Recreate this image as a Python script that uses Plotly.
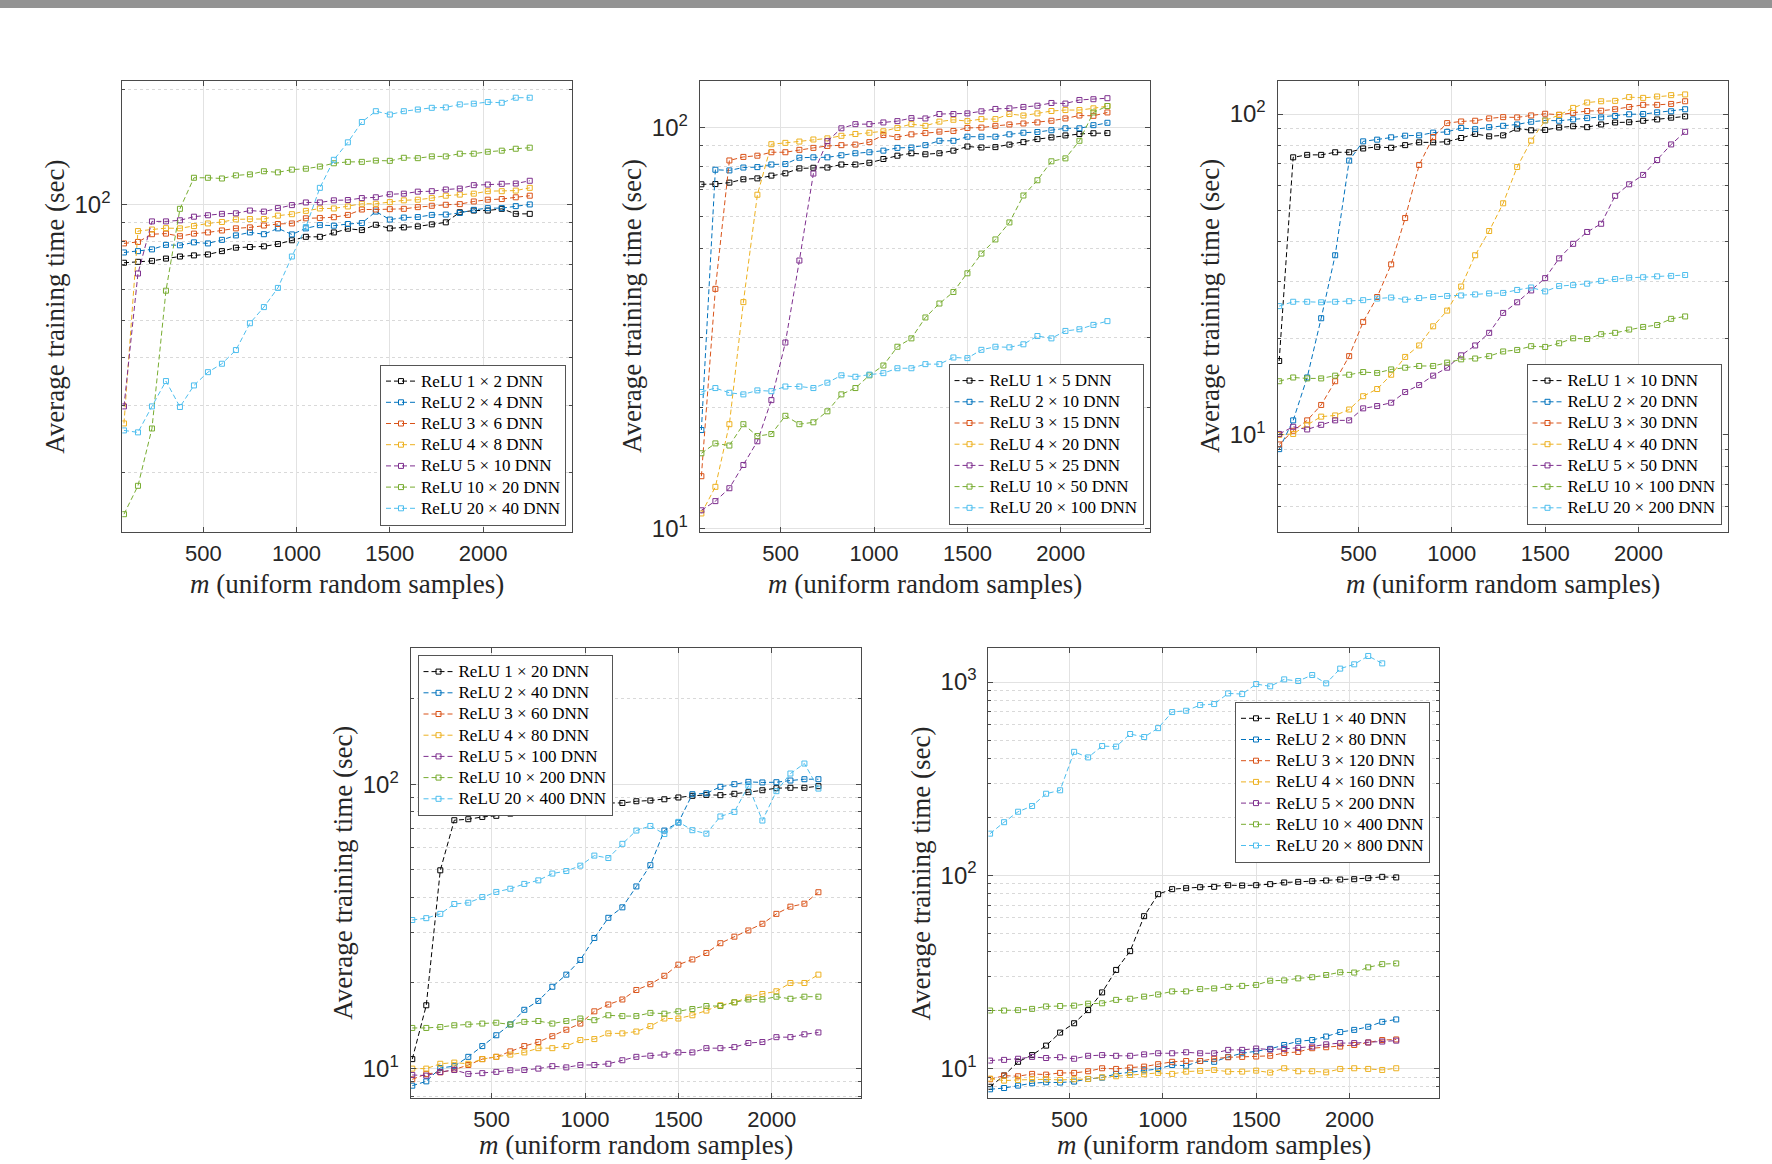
import plotly.graph_objects as go

# ---------------- data ----------------
m_samples = [75, 150, 225, 300, 375, 450, 525, 600, 675, 750, 825, 900, 975, 1050, 1125,
             1200, 1275, 1350, 1425, 1500, 1575, 1650, 1725, 1800, 1875, 1950, 2025, 2100, 2175, 2250]

colors = ['#000000', '#0072BD', '#D95319', '#EDB120', '#7E2F8E', '#77AC30', '#4DBEEE']

# panel 1
p1_names = ['1 × 2', '2 × 4', '3 × 6', '4 × 8', '5 × 10', '10 × 20', '20 × 40']
p1_1x2 = [70.6, 71.0, 71.4, 72.4, 73.3, 73.8, 74.2, 75.7, 77.3, 77.6, 77.9, 79.0, 80.8, 82.5, 82.5, 84.7, 86.6, 85.9, 88.7, 86.8, 87.3, 87.8, 88.9, 90.0, 95.6, 96.6, 96.6, 97.6, 94.7, 94.7]
p1_2x4 = [75.1, 75.7, 76.5, 78.6, 78.4, 79.8, 79.3, 81.0, 83.2, 84.7, 83.8, 86.8, 83.7, 86.8, 88.5, 88.2, 89.1, 89.6, 96.0, 91.5, 92.6, 92.9, 94.1, 94.3, 95.2, 97.0, 98.0, 98.0, 99.2, 100.2]
p1_3x6 = [79.3, 80.0, 83.8, 84.1, 82.8, 84.1, 84.7, 85.7, 86.8, 87.3, 88.3, 89.1, 89.4, 92.2, 92.4, 92.8, 94.1, 97.2, 97.2, 97.4, 97.6, 98.6, 99.4, 100.0, 100.4, 102.0, 103.1, 103.5, 104.6, 105.6]
p1_4x8 = [26.9, 85.4, 86.2, 86.9, 86.8, 88.0, 89.4, 90.2, 91.6, 91.8, 91.8, 93.7, 94.5, 96.4, 97.8, 97.8, 99.0, 100.6, 100.6, 101.6, 102.7, 103.1, 104.1, 105.6, 106.3, 106.9, 108.5, 108.5, 108.9, 110.7]
p1_5x10 = [29.8, 66.2, 90.5, 90.5, 91.1, 93.1, 93.9, 94.7, 95.0, 96.6, 96.0, 98.0, 99.8, 101.4, 101.4, 102.7, 102.9, 104.1, 104.6, 106.5, 106.9, 108.2, 108.5, 109.6, 110.2, 112.5, 112.9, 113.4, 113.6, 115.5]
p1_10x20 = [15.6, 18.5, 26.1, 59.7, 97.6, 117.6, 117.6, 117.1, 119.3, 120.0, 122.3, 121.5, 123.5, 124.2, 125.8, 128.3, 129.4, 129.4, 130.4, 130.2, 132.6, 132.3, 133.7, 133.7, 135.9, 135.9, 137.5, 138.4, 140.0, 140.9]
p1_20x40 = [25.8, 25.5, 29.8, 34.7, 29.7, 33.8, 36.6, 38.5, 41.8, 49.1, 54.1, 60.7, 73.3, 87.5, 110.7, 131.0, 145.5, 164.4, 175.4, 171.9, 175.4, 177.2, 179.0, 179.4, 182.7, 183.5, 185.3, 184.5, 190.2, 190.2]

# panel 2
p2_names = ['1 × 5', '2 × 10', '3 × 15', '4 × 20', '5 × 25', '10 × 50', '20 × 100']
p2_1x5 = [72.2, 72.3, 72.9, 74.3, 74.7, 75.9, 76.9, 79.1, 79.4, 79.5, 80.9, 80.9, 81.7, 83.5, 85.1, 86.3, 85.8, 86.3, 87.6, 89.7, 89.2, 89.4, 90.7, 92.0, 93.6, 94.5, 95.6, 96.4, 96.8, 96.9]
p2_2x10 = [17.6, 78.5, 78.2, 79.5, 79.7, 80.9, 81.1, 84.1, 84.3, 84.3, 85.3, 86.3, 86.8, 87.6, 89.0, 89.2, 90.4, 92.7, 92.7, 94.9, 94.9, 94.9, 96.2, 97.1, 97.5, 98.5, 99.6, 99.6, 101.4, 102.8]
p2_3x15 = [13.5, 39.6, 82.8, 84.5, 85.1, 86.8, 86.8, 88.0, 89.0, 90.0, 90.4, 90.7, 92.0, 95.8, 94.7, 96.2, 96.9, 97.7, 98.1, 99.8, 100.0, 101.0, 101.8, 102.4, 103.0, 104.0, 105.4, 107.2, 107.0, 109.1]
p2_4x20 = [10.9, 12.7, 18.2, 36.7, 68.0, 90.9, 91.6, 92.3, 93.4, 94.0, 95.4, 96.4, 97.1, 97.9, 99.8, 102.0, 101.0, 103.5, 104.6, 103.8, 105.0, 105.0, 108.1, 107.2, 108.5, 110.0, 110.6, 110.6, 111.7, 113.2]
p2_5x25 = [11.1, 11.7, 12.6, 14.4, 16.5, 20.9, 29.1, 46.6, 76.8, 92.5, 99.6, 102.0, 102.0, 103.0, 103.8, 105.6, 105.4, 108.1, 108.1, 108.5, 109.8, 111.3, 111.7, 112.6, 113.4, 115.2, 114.8, 117.2, 117.7, 118.4]
p2_10x50 = [15.4, 16.3, 16.1, 18.2, 17.0, 17.2, 19.1, 18.2, 18.4, 19.6, 21.6, 22.4, 24.1, 25.5, 28.4, 29.8, 33.6, 36.4, 38.9, 43.3, 48.5, 52.6, 58.0, 67.7, 73.9, 82.4, 83.8, 92.7, 109.1, 113.2]
p2_20x100 = [21.9, 22.4, 21.8, 21.6, 22.1, 22.0, 22.6, 22.6, 22.4, 23.1, 24.1, 23.9, 24.2, 24.4, 25.1, 25.1, 25.7, 25.7, 26.7, 26.6, 27.9, 28.4, 28.3, 28.8, 30.2, 29.8, 31.1, 31.4, 32.2, 32.9]

# panel 3
p3_names = ['1 × 10', '2 × 20', '3 × 30', '4 × 40', '5 × 50', '10 × 100', '20 × 200']
p3_1x10 = [17.0, 73.3, 74.6, 74.6, 76.0, 76.0, 78.1, 79.0, 78.5, 80.0, 81.6, 81.6, 82.0, 84.2, 86.7, 85.2, 85.8, 90.1, 89.0, 89.2, 90.8, 91.6, 91.0, 92.8, 94.1, 94.3, 95.3, 96.2, 97.4, 98.3]
p3_2x20 = [9.03, 11.1, 15.1, 23.1, 36.3, 71.6, 82.2, 83.2, 84.6, 85.6, 85.8, 87.5, 88.0, 90.5, 89.7, 91.0, 91.9, 92.8, 94.6, 95.5, 95.3, 96.2, 97.1, 97.6, 98.6, 99.8, 100.0, 101.2, 102.0, 103.5]
p3_3x30 = [9.34, 10.3, 11.1, 12.4, 14.7, 17.6, 22.5, 26.9, 34.0, 47.4, 69.4, 84.8, 93.7, 94.8, 95.3, 96.9, 97.8, 97.6, 99.0, 100.2, 99.5, 100.7, 102.2, 102.4, 103.5, 105.2, 106.8, 106.8, 107.5, 109.6]
p3_4x40 = [10.0, 10.07, 10.75, 11.4, 11.5, 12.0, 13.2, 13.9, 15.4, 17.5, 19.0, 21.8, 24.4, 29.0, 36.3, 43.2, 52.7, 68.4, 82.6, 95.5, 99.3, 104.5, 108.6, 109.6, 109.9, 112.9, 112.3, 113.4, 114.5, 115.1]
p3_5x50 = [10.07, 10.6, 10.4, 10.75, 11.1, 11.1, 12.1, 12.3, 12.6, 13.6, 14.3, 15.3, 16.2, 17.7, 19.0, 20.8, 24.0, 25.9, 28.2, 30.8, 35.5, 39.4, 42.9, 45.5, 55.6, 60.4, 64.6, 71.9, 80.4, 88.0]
p3_10x100 = [14.7, 15.1, 15.0, 15.0, 15.3, 15.4, 15.7, 15.6, 16.0, 16.2, 16.4, 16.4, 16.8, 17.2, 17.3, 17.6, 18.2, 18.4, 18.9, 18.8, 19.3, 20.0, 19.9, 20.6, 20.8, 21.3, 21.7, 22.0, 23.0, 23.4]
p3_20x200 = [25.2, 26.0, 26.0, 25.9, 26.0, 26.1, 26.3, 26.6, 26.8, 26.4, 26.7, 26.9, 27.1, 27.2, 27.4, 27.6, 27.7, 28.3, 28.8, 28.0, 29.1, 29.3, 29.6, 30.2, 30.6, 30.9, 31.0, 31.2, 31.3, 31.5]

# panel 4
p4_names = ['1 × 20', '2 × 40', '3 × 60', '4 × 80', '5 × 100', '10 × 200', '20 × 400']
p4_1x20 = [10.8, 16.7, 49.8, 74.7, 75.3, 76.7, 77.4, 78.8, 80.6, 81.7, 81.7, 83.0, 84.1, 85.0, 85.9, 85.9, 87.1, 87.6, 88.5, 89.8, 91.0, 91.7, 91.5, 92.5, 93.7, 95.2, 96.8, 97.1, 97.1, 98.4]
p4_2x40 = [8.71, 9.02, 10.05, 10.2, 11.0, 12.0, 13.1, 14.3, 16.1, 17.3, 19.4, 21.4, 24.1, 28.8, 33.9, 36.9, 43.7, 51.9, 68.7, 73.3, 92.2, 92.9, 97.9, 100.0, 101.9, 101.4, 101.6, 103.0, 104.1, 104.1]
p4_3x60 = [9.17, 9.58, 9.70, 9.92, 10.3, 10.8, 11.0, 11.5, 12.0, 12.4, 13.0, 13.7, 14.4, 15.9, 16.8, 17.5, 18.9, 19.8, 21.2, 23.2, 24.2, 25.5, 27.6, 29.1, 30.6, 32.3, 35.0, 37.1, 38.0, 41.7]
p4_4x80 = [10.0, 10.0, 10.4, 10.5, 10.4, 10.8, 11.0, 11.2, 11.4, 11.8, 11.8, 12.0, 12.6, 12.7, 13.3, 13.3, 13.5, 14.1, 15.0, 15.0, 15.4, 16.0, 16.7, 17.1, 17.8, 18.3, 18.7, 20.0, 20.0, 21.4]
p4_5x100 = [9.50, 9.45, 9.73, 9.89, 9.58, 9.64, 9.74, 9.87, 9.89, 10.0, 10.2, 10.1, 10.3, 10.3, 10.4, 10.7, 11.0, 11.1, 11.2, 11.4, 11.4, 11.8, 11.8, 11.9, 12.3, 12.4, 12.9, 12.9, 13.2, 13.4]
p4_10x200 = [13.9, 13.9, 14.0, 14.2, 14.3, 14.4, 14.5, 14.3, 14.6, 14.7, 14.4, 14.7, 15.0, 14.8, 15.4, 15.3, 15.3, 15.7, 15.6, 15.9, 16.2, 16.6, 16.6, 17.1, 17.5, 17.5, 17.9, 17.6, 17.9, 17.9]
p4_20x400 = [33.3, 33.8, 35.0, 37.9, 38.3, 40.1, 41.8, 42.9, 44.6, 45.9, 48.5, 49.5, 51.7, 56.1, 55.0, 61.7, 68.7, 71.3, 66.8, 73.7, 68.9, 67.0, 77.0, 79.9, 98.7, 74.5, 94.5, 109.0, 118.2, 96.5]

# panel 5
p5_names = ['1 × 40', '2 × 80', '3 × 120', '4 × 160', '5 × 200', '10 × 400', '20 × 800']
p5_1x40 = [8.02, 9.18, 10.8, 11.7, 13.1, 15.3, 17.1, 20.0, 24.7, 32.3, 40.4, 61.3, 79.7, 84.6, 85.6, 86.6, 87.0, 88.7, 88.4, 88.7, 89.8, 91.6, 92.3, 93.1, 93.8, 94.9, 95.3, 96.5, 98.0, 97.3]
p5_2x80 = [7.78, 7.90, 8.13, 8.36, 8.46, 8.43, 8.53, 8.80, 8.94, 9.35, 9.53, 9.76, 9.92, 10.4, 10.3, 10.9, 10.8, 11.45, 11.96, 12.25, 12.6, 13.2, 13.8, 14.0, 14.6, 15.4, 15.8, 16.4, 17.4, 17.9]
p5_3x120 = [8.77, 9.16, 9.09, 9.35, 9.27, 9.46, 9.46, 9.65, 10.0, 9.92, 10.08, 10.2, 10.5, 10.8, 10.9, 10.9, 11.2, 11.4, 11.45, 11.5, 11.6, 12.0, 12.15, 12.7, 12.85, 12.95, 13.2, 13.6, 14.0, 14.1]
p5_4x160 = [8.84, 8.63, 8.70, 8.77, 8.77, 8.70, 8.77, 8.80, 8.98, 9.09, 9.23, 9.31, 9.46, 9.35, 9.61, 9.69, 9.80, 9.61, 9.61, 9.72, 9.50, 10.0, 9.65, 9.65, 9.53, 9.92, 10.0, 9.92, 9.80, 10.0]
p5_5x200 = [10.96, 11.05, 11.2, 11.45, 11.3, 11.4, 11.2, 11.6, 11.7, 11.6, 11.6, 11.8, 11.96, 11.96, 12.1, 11.96, 11.96, 12.45, 12.45, 12.65, 12.5, 12.6, 12.75, 12.95, 13.3, 13.5, 13.5, 13.6, 13.75, 13.9]
p5_10x400 = [19.9, 19.9, 20.0, 20.3, 20.9, 21.0, 21.1, 21.6, 21.7, 22.6, 22.9, 23.5, 24.1, 25.0, 25.0, 25.7, 25.9, 26.4, 26.7, 27.0, 28.4, 28.5, 29.2, 29.6, 30.4, 31.4, 31.3, 33.3, 34.6, 34.9]
p5_20x800 = [164, 188, 213, 228, 264, 275, 435, 407, 466, 463, 538, 519, 577, 699, 710, 760, 769, 873, 866, 976, 950, 1032, 1012, 1087, 984, 1173, 1235, 1364, 1249]

y_major_vals = [10, 100, 1000]
y_major_text = ['10<sup>1</sup>', '10<sup>2</sup>', '10<sup>3</sup>']
y_minor_vals = [d * p for p in (1, 10, 100, 1000) for d in range(2, 10)]
x_tick_vals = [500, 1000, 1500, 2000]

# ---------------- layout geometry (pixels) ----------------
W, H = 1772, 1164
panels = [
    dict(names=p1_names, series=[p1_1x2, p1_2x4, p1_3x6, p1_4x8, p1_5x10, p1_10x20, p1_20x40],
         box=(122.3, 572.3, 81.3, 531.5), yr=(1.148, 2.322), xlab_off=52,
         leg=dict(x=566, y=525.5, xanchor='right', yanchor='bottom')),
    dict(names=p2_names, series=[p2_1x5, p2_2x10, p2_3x15, p2_4x20, p2_5x25, p2_10x50, p2_20x100],
         box=(699.7, 1150.0, 81.3, 531.5), yr=(0.9924, 2.1155), xlab_off=52,
         leg=dict(x=1143.5, y=525.0, xanchor='right', yanchor='bottom')),
    dict(names=p3_names, series=[p3_1x10, p3_2x20, p3_3x30, p3_4x40, p3_5x50, p3_10x100, p3_20x200],
         box=(1277.5, 1727.7, 81.3, 531.5), yr=(0.699, 2.102), xlab_off=52,
         leg=dict(x=1721.5, y=525.0, xanchor='right', yanchor='bottom')),
    dict(names=p4_names, series=[p4_1x20, p4_2x40, p4_3x60, p4_4x80, p4_5x100, p4_10x200, p4_20x400],
         box=(410.6, 861.0, 648.3, 1098.0), yr=(0.8967, 2.4777), xlab_off=47,
         leg=dict(x=417.5, y=655.0, xanchor='left', yanchor='top')),
    dict(names=p5_names, series=[p5_1x40, p5_2x80, p5_3x120, p5_4x160, p5_5x200, p5_10x400, p5_20x800],
         box=(988.4, 1438.8, 648.3, 1098.0), yr=(0.846, 3.1746), xlab_off=47,
         leg=dict(x=1430.0, y=701.7, xanchor='right', yanchor='top')),
]

AX_COL = '#4a4a4a'
TXT_COL = '#262626'
GRID_COL = '#e2e2e2'
MINOR_GRID_COL = '#d9d9d9'
XTICK_FONT = dict(family='Liberation Sans, Arial, sans-serif', size=22, color=TXT_COL)
YTICK_FONT = dict(family='Liberation Sans, Arial, sans-serif', size=24, color=TXT_COL)
TITLE_FONT = dict(family='Liberation Serif, Times New Roman, serif', size=27, color=TXT_COL)

fig = go.Figure()
layout = dict(width=W, height=H, margin=dict(l=0, r=0, t=0, b=0, pad=0, autoexpand=False),
              paper_bgcolor='white', plot_bgcolor='white', showlegend=True,
              annotations=[], shapes=[])

for i, p in enumerate(panels, start=1):
    sfx = '' if i == 1 else str(i)
    xa, ya = 'x' + sfx, 'y' + sfx
    leg = 'legend' + sfx
    for k, (nm, vals) in enumerate(zip(p['names'], p['series'])):
        fig.add_trace(go.Scatter(
            x=m_samples[:len(vals)], y=vals, xaxis=xa, yaxis=ya, legend=leg,
            mode='lines+markers',
            name='<span style="font-size:17px">ReLU ' + nm + ' DNN</span>',
            line=dict(color=colors[k], width=1, dash='5px,3px'),
            marker=dict(symbol='square-open', size=5, color=colors[k], line=dict(width=1, color=colors[k])),
        ))
    x0, x1, yt, yb = p['box']
    xd = [x0 / W, x1 / W]
    yd = [1 - yb / H, 1 - yt / H]
    layout['xaxis' + sfx] = dict(
        domain=xd, anchor=ya, range=[66, 2478], tickmode='array', tickvals=x_tick_vals,
        ticks='inside', ticklen=5, tickwidth=1, tickcolor=AX_COL, mirror='allticks',
        showline=True, linecolor=AX_COL, linewidth=1, showgrid=True, gridcolor=GRID_COL, gridwidth=1,
        zeroline=False, tickfont=XTICK_FONT, ticklabelstandoff=2, automargin=False)
    layout['yaxis' + sfx] = dict(
        domain=yd, anchor=xa, type='log', range=list(p['yr']), tickmode='array',
        tickvals=y_major_vals, ticktext=y_major_text,
        ticks='inside', ticklen=5, tickwidth=1, tickcolor=AX_COL, mirror='allticks',
        showline=True, linecolor=AX_COL, linewidth=1, showgrid=True, gridcolor=GRID_COL, gridwidth=1,
        zeroline=False, tickfont=YTICK_FONT, ticklabelstandoff=6, automargin=False,
        minor=dict(tickmode='array', tickvals=y_minor_vals, ticks='inside', ticklen=3,
                   tickcolor=AX_COL, showgrid=True, gridcolor=MINOR_GRID_COL, griddash='dot', gridwidth=1))
    lg = p['leg']
    layout[leg] = dict(x=lg['x'] / W, y=1 - lg['y'] / H, xanchor=lg['xanchor'], yanchor=lg['yanchor'],
                       xref='paper', yref='paper', bgcolor='white', bordercolor='#555555', borderwidth=1,
                       font=dict(family='Liberation Serif, Times New Roman, serif', size=14, color='black'),
                       itemwidth=30, tracegroupgap=0)
    # axis titles
    layout['annotations'].append(dict(
        x=(x0 + x1) / 2 / W, y=1 - (yb + p['xlab_off']) / H, xref='paper', yref='paper',
        text='<i>m</i> (uniform random samples)', showarrow=False, font=TITLE_FONT,
        xanchor='center', yanchor='middle', borderpad=0))
    layout['annotations'].append(dict(
        x=(x0 - 67) / W, y=1 - (yt + yb) / 2 / H, xref='paper', yref='paper',
        text='Average training time (sec)', showarrow=False, font=TITLE_FONT, textangle=-90,
        xanchor='center', yanchor='middle', borderpad=0))

layout['shapes'].append(dict(type='rect', xref='paper', yref='paper', x0=0, x1=1,
                             y0=1 - 8 / H, y1=1, fillcolor='#939393', line=dict(width=0)))

fig.update_layout(**layout)
fig.write_html(
    "out.html", config={'displayModeBar': False},
    post_script=(
        "document.documentElement.style.margin='0px';"
        "document.body.style.margin='0px';"
        "document.documentElement.style.overflow='hidden';"
        "document.body.style.overflow='hidden';"
        "var gd=document.querySelector('.plotly-graph-div');"
        "gd.style.position='fixed';gd.style.left='0px';gd.style.top='0px';"
    ))
